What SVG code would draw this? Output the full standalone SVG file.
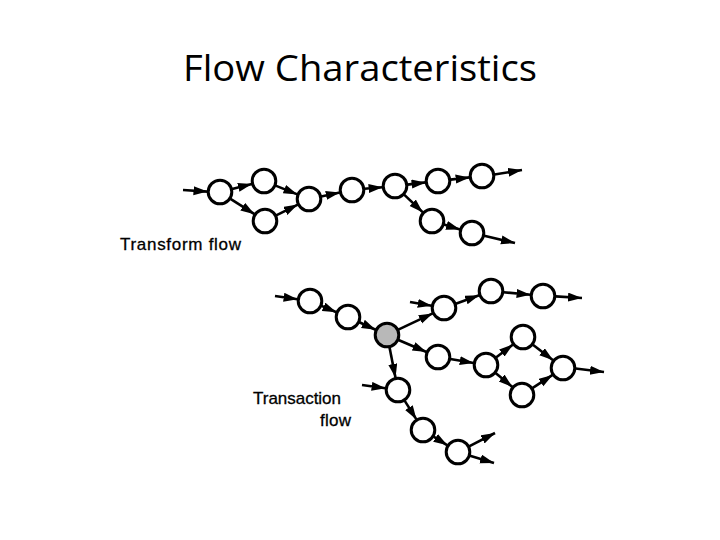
<svg xmlns="http://www.w3.org/2000/svg" width="720" height="540" viewBox="0 0 720 540">
<defs>
<marker id="ah" markerUnits="userSpaceOnUse" markerWidth="16" markerHeight="10" refX="14" refY="4.5" orient="auto">
<path d="M0,0 L14,4.5 L0,9 z" fill="#000"/>
</marker>
<style>
.n{fill:#fff;stroke:#000;stroke-width:3}
.g{fill:#b8b8b8;stroke:#000;stroke-width:3}
.e{stroke:#000;stroke-width:2.6;fill:none;marker-end:url(#ah)}
.t{font-family:"Liberation Sans",Arial,sans-serif;font-size:17px;fill:#000;stroke:#000;stroke-width:0.3}
</style>
</defs>
<rect width="720" height="540" fill="#fff"/>
<text x="360" y="81" text-anchor="middle" font-family="'Open Sans','Noto Sans',sans-serif" font-size="37" textLength="354" lengthAdjust="spacingAndGlyphs">Flow Characteristics</text>
<text class="t" x="120" y="250" textLength="121" lengthAdjust="spacing">Transform flow</text>
<text class="t" x="253" y="404" textLength="88" lengthAdjust="spacing">Transaction</text>
<text class="t" x="320" y="426" textLength="31" lengthAdjust="spacing">flow</text>
<g id="connectors">
<line class="e" x1="183" y1="190" x2="207.5" y2="191.6"/>
<line class="e" x1="232.1" y1="189" x2="251.9" y2="184"/>
<line class="e" x1="230.5" y1="198.8" x2="254.5" y2="214.2"/>
<line class="e" x1="275.6" y1="185.6" x2="297.4" y2="194.4"/>
<line class="e" x1="276.2" y1="215.4" x2="297.8" y2="204.6"/>
<line class="e" x1="321.2" y1="196.4" x2="339.8" y2="192.6"/>
<line class="e" x1="364.4" y1="188.8" x2="382.6" y2="187.2"/>
<line class="e" x1="407.4" y1="184.6" x2="425.6" y2="182.4"/>
<line class="e" x1="450.4" y1="179.6" x2="469.6" y2="177.4"/>
<line class="e" x1="404.1" y1="194.6" x2="422.9" y2="212.4"/>
<line class="e" x1="444" y1="224.6" x2="460" y2="229.4"/>
<line class="e" x1="494.4" y1="174.5" x2="522" y2="170"/>
<line class="e" x1="484.2" y1="235.8" x2="515" y2="243"/>
<line class="e" x1="275" y1="296" x2="297.6" y2="299.2"/>
<line class="e" x1="321.5" y1="305.9" x2="336.5" y2="312.2"/>
<line class="e" x1="359.4" y1="322.2" x2="375.6" y2="329.8"/>
<line class="e" x1="398.3" y1="329.6" x2="432.7" y2="313.4"/>
<line class="e" x1="398.5" y1="340" x2="426.5" y2="352"/>
<line class="e" x1="389.5" y1="347.3" x2="395.5" y2="377.8"/>
<line class="e" x1="410" y1="302" x2="431.7" y2="305.8"/>
<line class="e" x1="455.8" y1="303.8" x2="479.2" y2="295.3"/>
<line class="e" x1="503.4" y1="292.2" x2="530.6" y2="294.8"/>
<line class="e" x1="555.5" y1="296.4" x2="582" y2="298"/>
<line class="e" x1="450.3" y1="359" x2="473.7" y2="363"/>
<line class="e" x1="496" y1="357.5" x2="513" y2="344.5"/>
<line class="e" x1="495.6" y1="373" x2="512.4" y2="387"/>
<line class="e" x1="532.9" y1="344.7" x2="553.1" y2="360.3"/>
<line class="e" x1="532.4" y1="388.1" x2="552.6" y2="374.9"/>
<line class="e" x1="575.5" y1="368.5" x2="604" y2="372"/>
<line class="e" x1="362" y1="385" x2="385.6" y2="388.3"/>
<line class="e" x1="404.6" y1="400.6" x2="416.4" y2="419.4"/>
<line class="e" x1="433.6" y1="436.7" x2="447.4" y2="445.3"/>
<line class="e" x1="469.1" y1="446.3" x2="495" y2="433"/>
<line class="e" x1="470" y1="455.7" x2="494" y2="463"/>
</g>
<g id="A"><circle class="n" cx="220" cy="192" r="11.8"/></g>
<g id="B"><circle class="n" cx="264" cy="181" r="11.8"/></g>
<g id="C"><circle class="n" cx="265" cy="221" r="11.8"/></g>
<g id="D"><circle class="n" cx="309" cy="199" r="11.8"/></g>
<g id="E"><circle class="n" cx="352" cy="190" r="11.8"/></g>
<g id="F"><circle class="n" cx="395" cy="186" r="11.8"/></g>
<g id="G"><circle class="n" cx="438" cy="181" r="11.8"/></g>
<g id="H"><circle class="n" cx="482" cy="176" r="11.8"/></g>
<g id="I"><circle class="n" cx="432" cy="221" r="11.8"/></g>
<g id="J"><circle class="n" cx="472" cy="233" r="11.8"/></g>
<g id="K"><circle class="n" cx="310" cy="301" r="11.8"/></g>
<g id="L"><circle class="n" cx="348" cy="317" r="11.8"/></g>
<g id="M"><circle class="g" cx="387" cy="335" r="11.8"/></g>
<g id="N"><circle class="n" cx="444" cy="308" r="11.8"/></g>
<g id="O"><circle class="n" cx="491" cy="291" r="11.8"/></g>
<g id="P"><circle class="n" cx="543" cy="296" r="11.8"/></g>
<g id="Q"><circle class="n" cx="438" cy="357" r="11.8"/></g>
<g id="R"><circle class="n" cx="486" cy="365" r="11.8"/></g>
<g id="S"><circle class="n" cx="523" cy="337" r="11.8"/></g>
<g id="T"><circle class="n" cx="522" cy="395" r="11.8"/></g>
<g id="U"><circle class="n" cx="563" cy="368" r="11.8"/></g>
<g id="V"><circle class="n" cx="398" cy="390" r="11.8"/></g>
<g id="W"><circle class="n" cx="423" cy="430" r="11.8"/></g>
<g id="X"><circle class="n" cx="458" cy="452" r="11.8"/></g>
</svg>
